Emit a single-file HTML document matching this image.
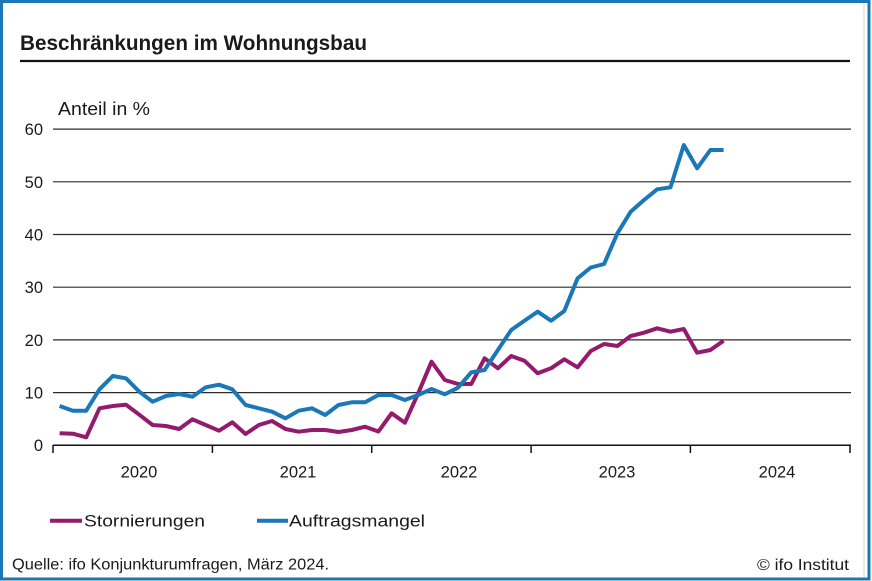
<!DOCTYPE html>
<html><head><meta charset="utf-8"><style>
html,body{margin:0;padding:0;background:#fff;}
svg{display:block;}
text{font-family:"Liberation Sans",Arial,sans-serif;fill:#1a1a1a;}
</style></head><body>
<svg width="872" height="581" viewBox="0 0 872 581" xmlns="http://www.w3.org/2000/svg">
<rect x="0" y="0" width="872" height="581" fill="#fff"/>
<rect x="1.5" y="1.5" width="867.5" height="577.5" fill="none" stroke="#1a77b8" stroke-width="3"/>
<line x1="864" y1="4" x2="864" y2="577" stroke="#e4e4e4" stroke-width="1.5"/>

<text x="20" y="50" font-size="21" font-weight="bold" textLength="347" lengthAdjust="spacingAndGlyphs">Beschränkungen im Wohnungsbau</text>
<line x1="20" y1="61" x2="850" y2="61" stroke="#111" stroke-width="2.2"/>

<text x="58" y="115" font-size="18" textLength="92" lengthAdjust="spacingAndGlyphs">Anteil in %</text>

<g stroke="#2b2b2b" stroke-width="1.2">
<line x1="53" y1="129.1" x2="851" y2="129.1"/>
<line x1="53" y1="181.8" x2="851" y2="181.8"/>
<line x1="53" y1="234.5" x2="851" y2="234.5"/>
<line x1="53" y1="287.2" x2="851" y2="287.2"/>
<line x1="53" y1="339.9" x2="851" y2="339.9"/>
<line x1="53" y1="392.6" x2="851" y2="392.6"/>
</g>
<g stroke="#111" stroke-width="1.5">
<line x1="53" y1="445.3" x2="851" y2="445.3"/>
<line x1="53" y1="445" x2="53" y2="453"/>
<line x1="212.4" y1="445" x2="212.4" y2="453"/>
<line x1="371.7" y1="445" x2="371.7" y2="453"/>
<line x1="531.1" y1="445" x2="531.1" y2="453"/>
<line x1="690.4" y1="445" x2="690.4" y2="453"/>
<line x1="850" y1="445" x2="850" y2="453"/>
</g>

<g font-size="16.5" text-anchor="end">
<text x="43" y="135">60</text>
<text x="43" y="188">50</text>
<text x="43" y="240.5">40</text>
<text x="43" y="293">30</text>
<text x="43" y="346">20</text>
<text x="43" y="398.5">10</text>
<text x="43" y="451">0</text>
</g>
<g font-size="16.5" text-anchor="middle">
<text x="139" y="477.5">2020</text>
<text x="298" y="477.5">2021</text>
<text x="459" y="477.5">2022</text>
<text x="617" y="477.5">2023</text>
<text x="777" y="477.5">2024</text>
</g>

<polyline fill="none" stroke="#931a6d" stroke-width="4" stroke-linejoin="round" points="
59.6,433.3 72.9,433.7 86.2,437.3 99.5,408.3 112.8,406 126.0,404.7 139.3,414.7 152.6,425 165.9,426 179.2,429 192.4,419.3 205.7,425 219.0,430.7 232.3,422.3 245.6,434 258.8,425 272.1,421 285.4,429 298.7,431.7 312.0,430 325.2,430 338.5,432 351.8,430 365.1,426.7 378.4,431.5 391.6,413.3 404.9,422.7 418.2,393.3 431.5,361.7 444.8,380 458.0,384 471.3,384 484.6,358.3 497.9,368.3 511.2,356 524.4,360.7 537.7,373.3 551.0,368.3 564.3,359.3 577.6,367.3 590.8,351 604.1,344 617.4,346 630.7,336 644.0,332.7 657.2,328.3 670.5,331.7 683.8,329 697.1,352.7 710.4,350 723.6,340.7"/>

<polyline fill="none" stroke="#1a77b8" stroke-width="4" stroke-linejoin="round" points="
59.6,406 72.9,410.7 86.2,410.7 99.5,389.3 112.8,376 126.0,378.3 139.3,391.7 152.6,401.7 165.9,396 179.2,394 192.4,396.7 205.7,387.3 219.0,384.7 232.3,389.3 245.6,405 258.8,408.3 272.1,411.7 285.4,418.3 298.7,410.7 312.0,408.3 325.2,415 338.5,405 351.8,402.3 365.1,402.3 378.4,395 391.6,395 404.9,400 418.2,395 431.5,389 444.8,394.3 458.0,387.7 471.3,372.3 484.6,370 497.9,350 511.2,330 524.4,320.7 537.7,311.7 551.0,320.7 564.3,311 577.6,278.3 590.8,267.5 604.1,264 617.4,233.3 630.7,211.7 644.0,200 657.2,189.3 670.5,187.3 683.8,145 697.1,168.3 710.4,150 723.6,150"/>

<line x1="50" y1="520.7" x2="82" y2="520.7" stroke="#931a6d" stroke-width="4"/>
<text x="84" y="526.7" font-size="17" textLength="121" lengthAdjust="spacingAndGlyphs">Stornierungen</text>
<line x1="257" y1="520.7" x2="288" y2="520.7" stroke="#1a77b8" stroke-width="4"/>
<text x="289" y="526.7" font-size="17" textLength="136" lengthAdjust="spacingAndGlyphs">Auftragsmangel</text>

<text x="12" y="569.5" font-size="15.5" textLength="317" lengthAdjust="spacingAndGlyphs">Quelle: ifo Konjunkturumfragen, März 2024.</text>
<text x="757" y="570" font-size="15.5" textLength="92" lengthAdjust="spacingAndGlyphs">© ifo Institut</text>
</svg>
</body></html>
